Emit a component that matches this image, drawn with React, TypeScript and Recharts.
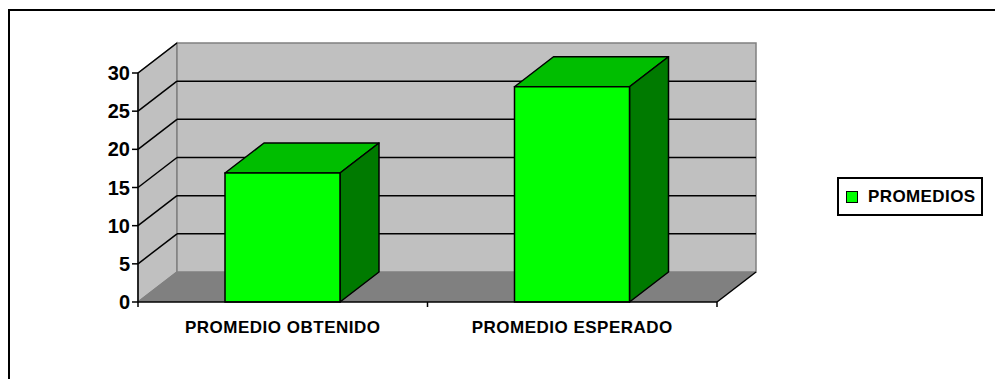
import React from 'react';
import {
  BarChart,
  Bar,
  XAxis,
  YAxis,
  ReferenceArea,
  Legend
} from 'recharts';

// categorias y valores
const categories = ['PROMEDIO OBTENIDO', 'PROMEDIO ESPERADO'];
const promedios = [16.9, 28.2];
const yTicks = [0, 5, 10, 15, 20, 25, 30];
const seriesName = 'PROMEDIOS';

const data = categories.map((name, i) => ({ name, value: promedios[i] }));

const FONT = '"Liberation Sans", Arial, sans-serif';
// profundidad del efecto 3D
const DX = 39;
const DY = -30;

const WALL = '#C0C0C0';
const FLOOR = '#808080';
const EDGE = '#808080';

// paredes, piso y lineas de division (dibujadas desde el area de referencia)
const Walls = (props: any) => {
  const { x, y, width: w, height: h } = props;
  if (x == null || y == null) return null;
  const yMax = yTicks[yTicks.length - 1];
  const n = categories.length;
  const bottom = y + h;
  return (
    <g>
      <polygon
        points={`${x},${y} ${x + DX},${y + DY} ${x + DX},${bottom + DY} ${x},${bottom}`}
        fill={WALL}
        stroke={EDGE}
        strokeWidth={1.5}
      />
      <rect x={x + DX} y={y + DY} width={w} height={h} fill={WALL} stroke={EDGE} strokeWidth={1.5} />
      <polygon
        points={`${x},${bottom} ${x + w},${bottom} ${x + w + DX},${bottom + DY} ${x + DX},${bottom + DY}`}
        fill={FLOOR}
        stroke="none"
      />
      {yTicks.slice(1).map(v => {
        const yy = y + h * (1 - v / yMax);
        return (
          <g key={v}>
            <line x1={x} y1={yy} x2={x + DX} y2={yy + DY} stroke="#000" strokeWidth={1.5} />
            {v < yMax && (
              <line x1={x + DX} y1={yy + DY} x2={x + DX + w} y2={yy + DY} stroke="#000" strokeWidth={1.5} />
            )}
          </g>
        );
      })}
      <line x1={x} y1={bottom} x2={x + DX} y2={bottom + DY} stroke={EDGE} strokeWidth={1.5} />
      <line x1={x + w} y1={bottom} x2={x + w + DX} y2={bottom + DY} stroke="#000" strokeWidth={1.5} />
      {Array.from({ length: n + 1 }, (_, i) => (
        <line
          key={i}
          x1={x + (i * w) / n}
          y1={bottom}
          x2={x + (i * w) / n}
          y2={bottom + 5}
          stroke="#000"
          strokeWidth={1.5}
        />
      ))}
    </g>
  );
};

// barra con caras frontal, superior y lateral
const Bar3D = (props: any) => {
  const { x, y, width: w, height: h } = props;
  if (x == null || y == null) return null;
  return (
    <g>
      <polygon
        points={`${x},${y} ${x + w},${y} ${x + w + DX},${y + DY} ${x + DX},${y + DY}`}
        fill="#00BE00"
        stroke="#000"
        strokeWidth={1.5}
        strokeLinejoin="round"
      />
      <polygon
        points={`${x + w},${y} ${x + w + DX},${y + DY} ${x + w + DX},${y + h + DY} ${x + w},${y + h}`}
        fill="#007A00"
        stroke="#000"
        strokeWidth={1.5}
        strokeLinejoin="round"
      />
      <rect x={x} y={y} width={w} height={h} fill="#00FF00" stroke="#000" strokeWidth={1.5} />
    </g>
  );
};

const LegendBox = (props: any) => {
  const item = props.payload && props.payload[0];
  return (
    <div
      style={{
        boxSizing: 'border-box',
        width: 146,
        height: 39,
        border: '2px solid #000',
        background: '#fff',
        display: 'flex',
        alignItems: 'center',
        paddingLeft: 7,
        fontFamily: FONT,
        fontWeight: 'bold',
        fontSize: 17,
        letterSpacing: 0.4,
        color: '#000'
      }}
    >
      <span
        style={{
          display: 'inline-block',
          width: 10,
          height: 10,
          background: '#00FF00',
          border: '1px solid #000',
          marginRight: 10
        }}
      />
      <span>{item ? item.value : seriesName}</span>
    </div>
  );
};

export default function App() {
  return (
    <div
      style={{
        position: 'absolute',
        left: 0,
        top: 0,
        width: 995,
        height: 379,
        overflow: 'hidden',
        background: '#fff'
      }}
    >
      <div
        style={{
          position: 'absolute',
          left: 8,
          top: 9,
          width: 1020,
          height: 420,
          border: '2px solid #000'
        }}
      />
      <div style={{ position: 'absolute', left: 0, top: 0 }}>
        <BarChart
          width={995}
          height={379}
          data={data}
          margin={{ top: 73, right: 278, bottom: 47, left: 0 }}
        >
          <ReferenceArea y1={0} y2={30} shape={<Walls />} ifOverflow="visible" />
          <XAxis
            dataKey="name"
            height={30}
            axisLine={{ stroke: '#000', strokeWidth: 1.5 }}
            tickLine={false}
            tickMargin={13}
            interval={0}
            tick={{ fill: '#000', fontSize: 17, fontWeight: 'bold', fontFamily: FONT, letterSpacing: 0.5 }}
          />
          <YAxis
            width={138}
            domain={[0, 30]}
            ticks={yTicks}
            interval={0}
            axisLine={{ stroke: '#000', strokeWidth: 1.5 }}
            tickLine={{ stroke: '#000', strokeWidth: 1.5 }}
            tickSize={6}
            tick={{ fill: '#000', fontSize: 20, fontWeight: 'bold', fontFamily: FONT }}
          />
          <Bar
            dataKey="value"
            name={seriesName}
            fill="#00FF00"
            barSize={115}
            shape={<Bar3D />}
            isAnimationActive={false}
          />
          <Legend
            layout="horizontal"
            align="center"
            verticalAlign="middle"
            wrapperStyle={{ left: 837, top: 177, width: 146, height: 39 }}
            content={<LegendBox />}
          />
        </BarChart>
      </div>
    </div>
  );
}
